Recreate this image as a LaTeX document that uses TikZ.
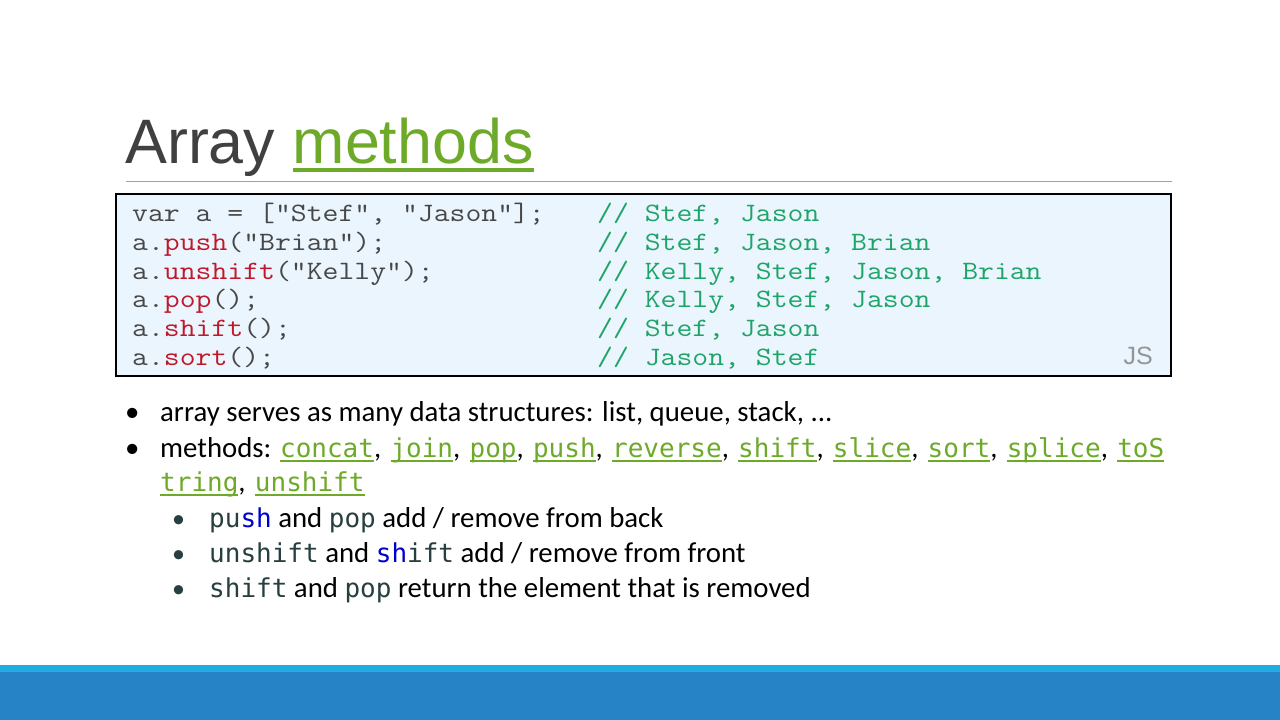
\documentclass[tikz,border=0pt]{standalone}
\usepackage{fontspec}
\setmainfont{Carlito}
\newfontfamily\titlefont{Liberation Sans}
\newfontfamily\codefont[FakeStretch=1.163]{Latin Modern Mono}
\newfontfamily\linkfont{DejaVu Sans Mono}
\definecolor{titlegray}{HTML}{404040}
\definecolor{lgreen}{HTML}{6EAA2A}
\definecolor{codegray}{HTML}{474747}
\definecolor{codered}{HTML}{C0182A}
\definecolor{codegreen}{HTML}{1FA468}
\definecolor{boxfill}{HTML}{EAF5FD}
\definecolor{slate}{HTML}{283F3F}
\definecolor{shblue}{HTML}{0000CC}
\definecolor{barlight}{HTML}{20ADE3}
\definecolor{bardark}{HTML}{2683C6}
\definecolor{rulegray}{HTML}{A0A0A0}
\definecolor{jsgray}{HTML}{959595}
\newcommand\myuline[3]{\setbox0\hbox{#3}\rlap{\rule[-#1]{\wd0}{#2}}\box0}
\newcommand\mylink[1]{\textcolor{lgreen}{\myuline{4.5pt}{1.5pt}{\linkfont\fontsize{26}{29}\selectfont #1}}}
\newcommand\lsep{,\hspace{9.3pt}}
\newcommand\sm[1]{\textcolor{slate}{\linkfont\fontsize{26}{29}\selectfont #1}}
\newcommand\rd[1]{\textcolor{codered}{#1}}
\begin{document}
\begin{tikzpicture}[x=1pt,y=-1pt,
  codeline/.style={anchor=base west, inner sep=0, font=\codefont\fontsize{26.5}{30}\selectfont, text=codegray},
  comment/.style={anchor=base west, inner sep=0, font=\codefont\fontsize{26.5}{30}\selectfont, text=codegreen},
  bul/.style={anchor=base west, inner sep=0, font=\fontsize{28.8}{34}\selectfont},
  dotmain/.style={anchor=base west, inner sep=0, font=\fontsize{28.8}{34}\selectfont},
  dotsub/.style={anchor=base west, inner sep=0, font=\fontsize{26}{30}\selectfont, text=slate}]
\useasboundingbox (0,0) rectangle (1280,720);
\fill[white] (0,0) rectangle (1280,720);
% title
\node[anchor=base west, inner sep=0, font=\titlefont\fontsize{62.8}{70}\selectfont, text=titlegray] (title) at (125,163)
  {Array \textcolor{lgreen}{\myuline{9pt}{4pt}{methods}}};
\draw[rulegray, line width=1pt] (126,181.5) -- (1172,181.5);
% code box
\draw[line width=2.5pt, fill=boxfill] (116,194) rectangle (1171,376);
\node[codeline] (c1) at (132,221) {var a = ["Stef", "Jason"];};
\node[codeline] (c2) at (132,250) {a.\rd{push}("Brian");};
\node[codeline] (c3) at (132,279) {a.\rd{unshift}("Kelly");};
\node[codeline] (c4) at (132,307.5) {a.\rd{pop}();};
\node[codeline] (c5) at (132,336) {a.\rd{shift}();};
\node[codeline] (c6) at (132,365) {a.\rd{sort}();};
\node[comment] (m1) at (597,221) {// Stef, Jason};
\node[comment] (m2) at (597,250) {// Stef, Jason, Brian};
\node[comment] (m3) at (597,279) {// Kelly, Stef, Jason, Brian};
\node[comment] (m4) at (597,307.5) {// Kelly, Stef, Jason};
\node[comment] (m5) at (597,336) {// Stef, Jason};
\node[comment] (m6) at (597,365) {// Jason, Stef};
\node[anchor=base east, inner sep=0, font=\titlefont\fontsize{25}{28}\selectfont, text=jsgray] (js) at (1153,364) {JS};
% bullets
\node[dotmain] (d1) at (125,421) {•};
\node[bul] (b1) at (160,421) {array serves as many data structures: list, queue, stack, ...};
\node[dotmain] (d2) at (125,457) {•};
\node[bul] (b2) at (160,457) {methods: \mylink{concat}\lsep\mylink{join}\lsep\mylink{pop}\lsep\mylink{push}\lsep\mylink{reverse}\lsep\mylink{shift}\lsep\mylink{slice}\lsep\mylink{sort}\lsep\mylink{splice}\lsep\mylink{toS}};
\node[bul] (b3) at (160,491) {\mylink{tring}\lsep\mylink{unshift}};
\node[dotsub] (s1d) at (172,527) {•};
\node[bul] (s1) at (209,527) {\sm{pu\textcolor{shblue}{sh}} and \sm{pop} add / remove from back};
\node[dotsub] (s2d) at (172,562) {•};
\node[bul] (s2) at (209,562) {\sm{unshift} and \sm{\textcolor{shblue}{sh}ift} add / remove from front};
\node[dotsub] (s3d) at (172,597) {•};
\node[bul] (s3) at (209,597) {\sm{shift} and \sm{pop} return the element that is removed};
% bottom bars
\fill[barlight] (0,665) rectangle (1280,672);
\fill[bardark] (0,672) rectangle (1280,720);
\end{tikzpicture}
\end{document}
